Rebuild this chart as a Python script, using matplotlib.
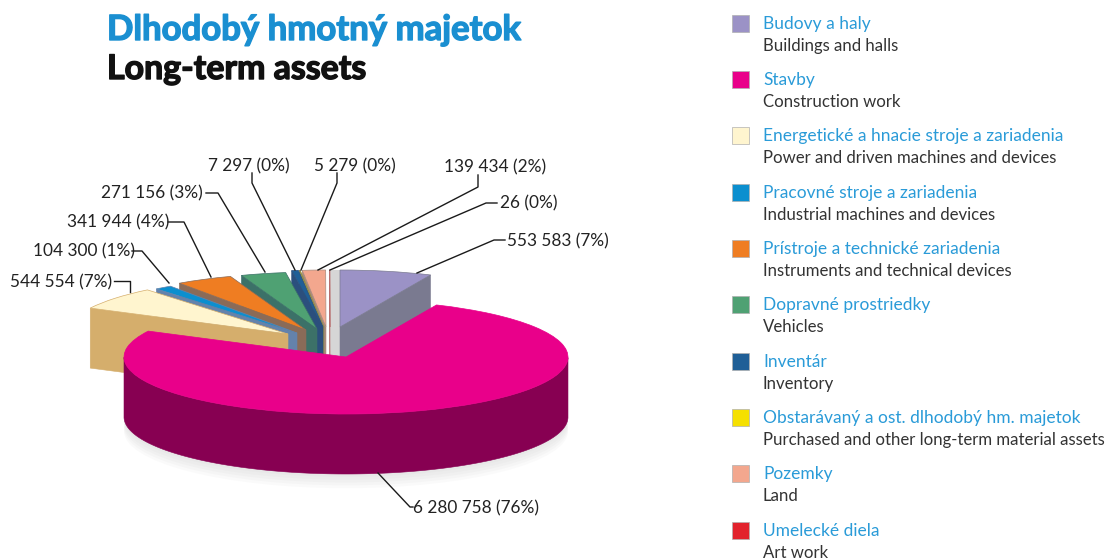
import numpy as np
import matplotlib
matplotlib.use("Agg")
import matplotlib.pyplot as plt
import matplotlib.patheffects as pe
from matplotlib.patches import Ellipse, Polygon, Rectangle, Wedge

W, H = 1106, 559

names_sk = ["Budovy a haly", "Stavby", "Energetické a hnacie stroje a zariadenia",
            "Pracovné stroje a zariadenia", "Prístroje a technické zariadenia",
            "Dopravné prostriedky", "Inventár", "Obstarávaný a ost. dlhodobý hm. majetok",
            "Pozemky", "Umelecké diela"]
names_en = ["Buildings and halls", "Construction work", "Power and driven machines and devices",
            "Industrial machines and devices", "Instruments and technical devices",
            "Vehicles", "Inventory", "Purchased and other long-term material assets",
            "Land", "Art work"]
values = [553583, 6280758, 544554, 104300, 341944, 271156, 7297, 5279, 139434, 26]
# the inventory slice is drawn much wider than its label says, estimate from the picture
drawn = [553583, 6280758, 544554, 104300, 341944, 271156, 40000, 5279, 139434, 2000]

top_colors = ["#9b92c6", "#e9008a", "#fff5cf", "#0b8fcf", "#ef7d22", "#4fa173",
              "#1f5f97", "#f5e000", "#f3a78e", "#e2222c"]
side_colors = ["#7a7a90", "#870052", "#d5ae6c", "#6482ab", "#8a6b58", "#3c7168",
               "#2b4f7d", "#8f8a50", "#a98a7c", "#b87070"]

# pie geometry in pixels
cx, cy = 346, 357
rx, ry = 222, 57
depth = 60
# slice tips, how far each one is pulled away from the centre
tip_dx = [-6, 0, -58, -49, -40, -29, -23, -22, -20, -16]
tip_dy = [-30, 0, -23, -24, -27, -28, -30, -30, -30, -30]

# leader paths and label anchors, pixels from top left
leaders = [
    [(417, 273), (494, 240), (505, 240)],
    [(378, 473), (410, 507), (413, 507)],
    [(130, 292), (130, 281), (114, 281)],
    [(169, 283), (142, 251), (132, 251)],
    [(211, 277), (184, 222), (168, 222)],
    [(265, 272), (218, 193), (206, 193)],
    [(295, 270), (252, 183), (252, 173)],
    [(301, 270), (337, 183), (337, 173)],
    [(318, 270), (478, 187), (478, 175)],
    [(330, 270), (486, 203), (497, 203)],
]
label_pos = [(507, 241), (413, 508), (10, 282), (33, 251), (67, 222),
             (101, 193), (208, 166), (314, 166), (444, 167), (500, 203)]
legend_y = [24, 80, 136, 193, 249, 305, 362, 418, 474, 531]

plt.rcParams["font.family"] = ["Lato", "DejaVu Sans"]

fig = plt.figure(figsize=(W / 100, H / 100), dpi=100)

# the pie gets its own axes, unit circle squashed to rx, ry
pie = fig.add_axes([0, 0, 1, 1])
pie.set_xlim((0 - cx) / rx, (W - cx) / rx)
pie.set_ylim((cy - H) / ry, (cy - 0) / ry)
pie.axis("off")

shares = np.array(drawn) / sum(drawn) * 360
ends = 90 - np.cumsum(shares)
starts = ends + shares
dz = depth / ry


def draw_slice(i):
    t1, t2 = ends[i], starts[i]
    x0, y0 = tip_dx[i] / rx, -tip_dy[i] / ry
    kw = dict(facecolor=side_colors[i], edgecolor=side_colors[i], lw=0.4)
    for t, seen in ((t1, np.cos(np.radians(t1)) > 0), (t2, np.cos(np.radians(t2)) < 0)):
        if seen:
            px, py = x0 + np.cos(np.radians(t)), y0 + np.sin(np.radians(t))
            pie.add_patch(Polygon([(x0, y0), (px, py), (px, py - dz), (x0, y0 - dz)], **kw))
    # outer wall, only the part that faces the viewer
    th = np.radians(np.linspace(t1, t2, 300))
    th = th[np.sin(th) < 0]
    if len(th):
        xs, ys = x0 + np.cos(th), y0 + np.sin(th)
        pts = np.r_[np.c_[xs, ys], np.c_[xs, ys - dz][::-1]]
        pie.add_patch(Polygon(pts, **kw))
    edge = top_colors[i] if i == 1 else side_colors[i]
    pie.add_patch(Wedge((x0, y0), 1, t1, t2, facecolor=top_colors[i], edgecolor=edge, lw=0.5))


# soft shadow under the big slice
for k in range(1, 6):
    pie.add_patch(Ellipse((0, -dz - k * 0.05), 2, 2, facecolor="#808080",
                          edgecolor="none", alpha=0.035))

# pale strip between the art work tip and the buildings slice
pie.add_patch(Rectangle((tip_dx[9] / rx, -tip_dy[9] / ry - dz),
                        (tip_dx[0] - tip_dx[9]) / rx, 1 + dz,
                        facecolor="#d6d6d6", edgecolor="none"))

for i in [9, 8, 7, 6, 5, 4, 3, 2, 0, 1]:
    draw_slice(i)

# leaders and value labels
over = fig.add_axes([0, 0, 1, 1])
over.set_xlim(0, W)
over.set_ylim(H, 0)
over.axis("off")
over.patch.set_alpha(0)
for i, path in enumerate(leaders):
    xs, ys = zip(*path)
    over.plot(xs, ys, color="#1a1a1a", lw=1)
    pct = round(values[i] / sum(values) * 100)
    txt = f"{values[i]:,}".replace(",", " ") + f" ({pct}%)"
    over.text(label_pos[i][0], label_pos[i][1], txt, fontsize=12.4, color="#222222",
              ha="left", va="center")

# titles
over.text(107, 30, "Dlhodobý hmotný majetok", fontsize=25, fontweight="bold",
          color="#1a8fd1", ha="left", va="center",
          path_effects=[pe.withStroke(linewidth=1.0, foreground="#1a8fd1")])
over.text(107, 69, "Long-term assets", fontsize=24.4, fontweight="bold",
          color="#111111", ha="left", va="center",
          path_effects=[pe.withStroke(linewidth=1.0, foreground="#111111")])

# legend
for i, y in enumerate(legend_y):
    over.add_patch(Rectangle((732, y - 9), 17, 17, facecolor=top_colors[i],
                             edgecolor="#b0b0b0", lw=0.5))
    over.text(763, y, names_sk[i], fontsize=12.5, color="#2a9bd8", ha="left", va="center")
    over.text(763, y + 22, names_en[i], fontsize=12.1, color="#333333", ha="left", va="center")

fig.savefig("out.png", dpi=100)
